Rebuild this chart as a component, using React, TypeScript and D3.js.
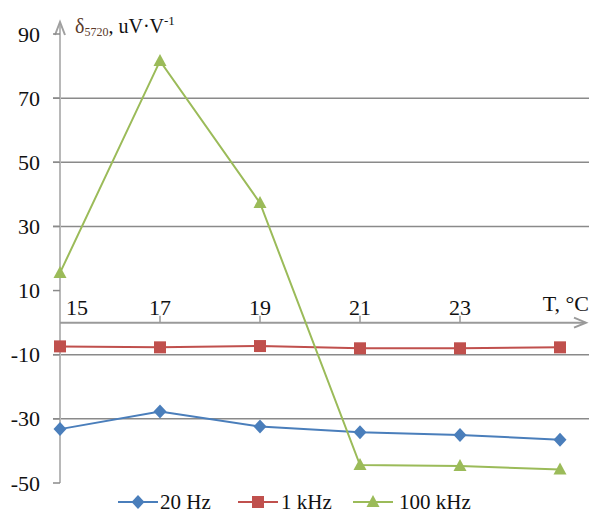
import React, { useEffect, useRef } from 'react';
import * as d3 from 'd3';

const temps = [15, 17, 19, 21, 23, 25];
const xTickLabels = [15, 17, 19, 21, 23];
const yTicks = [-50, -30, -10, 10, 30, 50, 70, 90];
const gridValues = [70, 50, 30, -10, -30];

const hz20 = [-33.2, -27.7, -32.4, -34.2, -35.0, -36.5];
const khz1 = [-7.4, -7.7, -7.3, -8.0, -8.0, -7.7];
const khz100 = [15.5, 81.6, 37.3, -44.4, -44.7, -45.8];

const series = [
  { name: '20 Hz', values: hz20, color: '#4a7ebb', marker: 'diamond' },
  { name: '1 kHz', values: khz1, color: '#c0504d', marker: 'square' },
  { name: '100 kHz', values: khz100, color: '#9bbb59', marker: 'triangle' },
];

const W = 589;
const H = 518;
const FONT = '"Liberation Serif", "Times New Roman", serif';

function markerPath(kind: string) {
  if (kind === 'diamond') return 'M0,-7L6.5,0L0,7L-6.5,0Z';
  if (kind === 'square') return 'M-6,-6H6V6H-6Z';
  return 'M0,-7L6.5,5L-6.5,5Z';
}

function App() {
  const svgRef = useRef<SVGSVGElement>(null);

  useEffect(() => {
    const svg = d3.select(svgRef.current);
    svg.selectAll('*').remove();

    const x = d3.scaleLinear().domain([15, 25]).range([60, 560]);
    const y = d3.scaleLinear().domain([-50, 90]).range([483, 34]);

    // grid lines
    svg.append('g')
      .selectAll('line')
      .data(gridValues)
      .enter()
      .append('line')
      .attr('x1', 53)
      .attr('x2', W)
      .attr('y1', d => y(d))
      .attr('y2', d => y(d))
      .attr('stroke', '#8a8a8a')
      .attr('stroke-width', 1.5);

    // y axis with arrow
    svg.append('line')
      .attr('x1', x(15)).attr('x2', x(15))
      .attr('y1', y(-50)).attr('y2', 24)
      .attr('stroke', '#b8b8b8')
      .attr('stroke-width', 2);
    svg.append('path')
      .attr('d', `M${x(15) - 5},35L${x(15)},22L${x(15) + 5},35`)
      .attr('fill', 'none')
      .attr('stroke', '#a0a0a0')
      .attr('stroke-width', 2);

    svg.append('g')
      .selectAll('line')
      .data(yTicks)
      .enter()
      .append('line')
      .attr('x1', 53)
      .attr('x2', 60)
      .attr('y1', d => y(d))
      .attr('y2', d => y(d))
      .attr('stroke', '#8a8a8a')
      .attr('stroke-width', 1.5);

    svg.append('g')
      .selectAll('text')
      .data(yTicks)
      .enter()
      .append('text')
      .attr('x', 40)
      .attr('y', d => y(d) + 7.5)
      .attr('text-anchor', 'end')
      .style('font-family', FONT)
      .style('font-size', '22px')
      .attr('fill', '#111')
      .text(d => d);

    // x axis at zero with arrow
    const y0 = y(0);
    svg.append('line')
      .attr('x1', x(15)).attr('x2', 584)
      .attr('y1', y0).attr('y2', y0)
      .attr('stroke', '#9a9a9a')
      .attr('stroke-width', 2);
    svg.append('path')
      .attr('d', `M574,${y0 - 5}L586,${y0}L574,${y0 + 5}`)
      .attr('fill', 'none')
      .attr('stroke', '#9a9a9a')
      .attr('stroke-width', 2);

    svg.append('g')
      .selectAll('line')
      .data(xTickLabels.slice(1))
      .enter()
      .append('line')
      .attr('x1', d => x(d))
      .attr('x2', d => x(d))
      .attr('y1', y0 - 7)
      .attr('y2', y0)
      .attr('stroke', '#9a9a9a')
      .attr('stroke-width', 1.5);

    svg.append('g')
      .selectAll('text')
      .data(xTickLabels)
      .enter()
      .append('text')
      .attr('x', d => (d === 15 ? x(d) + 17 : x(d)))
      .attr('y', 315)
      .attr('text-anchor', 'middle')
      .style('font-family', FONT)
      .style('font-size', '22px')
      .attr('fill', '#111')
      .text(d => d);

    svg.append('text')
      .attr('x', 589)
      .attr('y', 311)
      .attr('text-anchor', 'end')
      .style('font-family', FONT)
      .style('font-size', '22px')
      .attr('fill', '#111')
      .text('T, °C');

    // y axis title
    const title = svg.append('text')
      .attr('x', 75)
      .attr('y', 33)
      .style('font-family', FONT)
      .style('font-size', '20px')
      .attr('fill', '#111');
    title.append('tspan').attr('fill', '#5a3a2a').text('δ');
    title.append('tspan').attr('dy', 3).style('font-size', '12px').attr('fill', '#5a3a2a').text('5720');
    title.append('tspan').attr('dy', -3).text(', uV·V');
    title.append('tspan').attr('dy', -8).style('font-size', '13px').text('-1');

    // series
    const line = d3.line<number>()
      .x((_, i) => x(temps[i]))
      .y(d => y(d));

    series.forEach(s => {
      svg.append('path')
        .datum(s.values)
        .attr('d', line)
        .attr('fill', 'none')
        .attr('stroke', s.color)
        .attr('stroke-width', 2);
    });

    series.forEach(s => {
      svg.append('g')
        .selectAll('path')
        .data(s.values)
        .enter()
        .append('path')
        .attr('transform', (d, i) => `translate(${x(temps[i])},${y(d)})`)
        .attr('d', markerPath(s.marker))
        .attr('fill', s.color);
    });

    // legend
    const legendItems = [
      { lx: 118, tx: 160 },
      { lx: 238, tx: 281 },
      { lx: 353, tx: 399 },
    ];
    const ly = 502;
    series.forEach((s, i) => {
      const g = svg.append('g');
      const it = legendItems[i];
      g.append('line')
        .attr('x1', it.lx).attr('x2', it.lx + 40)
        .attr('y1', ly).attr('y2', ly)
        .attr('stroke', s.color)
        .attr('stroke-width', 2);
      g.append('path')
        .attr('transform', `translate(${it.lx + 20},${ly})`)
        .attr('d', markerPath(s.marker))
        .attr('fill', s.color);
      g.append('text')
        .attr('x', it.tx)
        .attr('y', ly + 7)
        .style('font-family', FONT)
        .style('font-size', '21px')
        .attr('fill', '#111')
        .text(s.name);
    });
  }, []);

  return (
    <svg
      ref={svgRef}
      width={W}
      height={H}
      style={{ position: 'absolute', left: 0, top: 0, background: '#fff' }}
    ></svg>
  );
}

export default App;
